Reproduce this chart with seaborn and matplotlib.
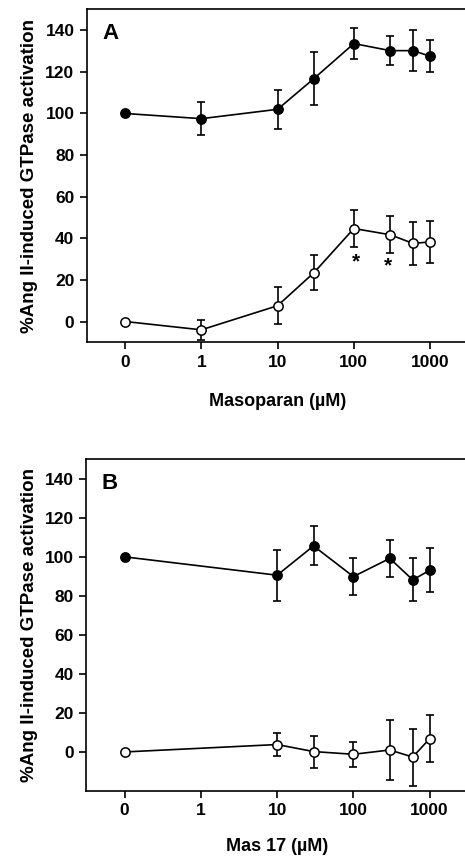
import matplotlib
matplotlib.use("Agg")
import matplotlib.pyplot as plt
import pandas
import seaborn as sns

# Concentrations (uM); 0 is drawn at the 0.1 position of the log axis
conc_a = [0, 1, 10, 30, 100, 300, 600, 1000]
conc_b = [0, 10, 30, 100, 300, 600, 1000]

# Panel A: Masoparan
filled_a = [100, 97.5, 102, 116.8, 133.6, 130.2, 130.2, 127.5]
filled_a_err = [0, 7.8, 9.4, 12.7, 7.4, 6.8, 9.7, 7.7]
open_a = [0, -4, 7.6, 23.5, 44.7, 41.7, 37.5, 38.3]
open_a_err = [0, 4.8, 9, 8.4, 8.8, 8.8, 10.2, 10]

# Panel B: Mas 17
filled_b = [100, 90.6, 105.6, 89.9, 99.2, 88.2, 93.1]
filled_b_err = [0, 13, 10, 9.6, 9.3, 11, 11.3]
open_b = [0, 3.8, 0.2, -1.2, 1, -2.6, 6.8]
open_b_err = [0, 5.8, 8.2, 6.3, 15.5, 14.6, 11.9]

tick_pos = [0.1, 1, 10, 100, 1000]
tick_labels = ["0", "1", "10", "100", "1000"]
y_ticks = [0, 20, 40, 60, 80, 100, 120, 140]

sns.set_style("ticks")
plt.rcParams["font.family"] = ["Liberation Sans", "DejaVu Sans"]
plt.rcParams["font.weight"] = "bold"
# plain black for all text, ticks and spines (seaborn defaults to dark grey)
for key in ["text.color", "axes.labelcolor", "xtick.color", "ytick.color",
            "axes.edgecolor"]:
    plt.rcParams[key] = "black"


def xpos(conc):
    return [0.1 if c == 0 else c for c in conc]


def draw_series(ax, conc, vals, errs, face):
    df = pandas.DataFrame({"x": xpos(conc), "y": vals})
    ax.errorbar(df["x"], df["y"], yerr=errs, fmt="none", ecolor="black",
                elinewidth=1.2, capsize=2.8, capthick=1.2, zorder=2)
    sns.lineplot(data=df, x="x", y="y", ax=ax, color="black", linewidth=1.2,
                 marker="o", markersize=6.7, markerfacecolor=face,
                 markeredgecolor="black", markeredgewidth=1.1,
                 errorbar=None, zorder=3)


def style_axis(ax, letter, xlabel, ylim, xpad):
    ax.set_xscale("log")
    ax.set_xlim(10 ** -1.5, 10 ** 3.5)
    ax.set_xticks(tick_pos)
    ax.set_xticklabels(tick_labels)
    ax.minorticks_off()
    ax.set_ylim(*ylim)
    ax.set_yticks(y_ticks)
    ax.tick_params(direction="out", length=5, width=1.2, labelsize=12.5, pad=4)
    for lab in ax.get_xticklabels() + ax.get_yticklabels():
        lab.set_fontweight("bold")
    for sp in ax.spines.values():
        sp.set_linewidth(1.2)
        sp.set_visible(True)
    ax.set_xlabel(xlabel, fontsize=13, fontweight="bold", labelpad=xpad)
    ax.set_ylabel("%Ang II-induced GTPase activation", fontsize=13.5,
                  fontweight="bold", labelpad=5)
    ax.text(0.04, 0.96, letter, transform=ax.transAxes, fontsize=16,
            fontweight="bold", va="top", ha="left")


fig = plt.figure(figsize=(4.65, 8.59), dpi=100)
ax_a = fig.add_axes([0.187, 0.6015, 0.82, 0.3875])
ax_b = fig.add_axes([0.186, 0.0792, 0.82, 0.3861])

draw_series(ax_a, conc_a, filled_a, filled_a_err, "black")
draw_series(ax_a, conc_a, open_a, open_a_err, "white")
ax_a.text(108, 28.5, "*", fontsize=15, fontweight="bold", ha="center", va="center")
ax_a.text(282, 26.5, "*", fontsize=15, fontweight="bold", ha="center", va="center")
style_axis(ax_a, "A", "Masoparan (\u00b5M)", (-10, 150), 17)

draw_series(ax_b, conc_b, filled_b, filled_b_err, "black")
draw_series(ax_b, conc_b, open_b, open_b_err, "white")
style_axis(ax_b, "B", "Mas 17 (\u00b5M)", (-20, 150), 14)

fig.savefig("out.png", dpi=100)
